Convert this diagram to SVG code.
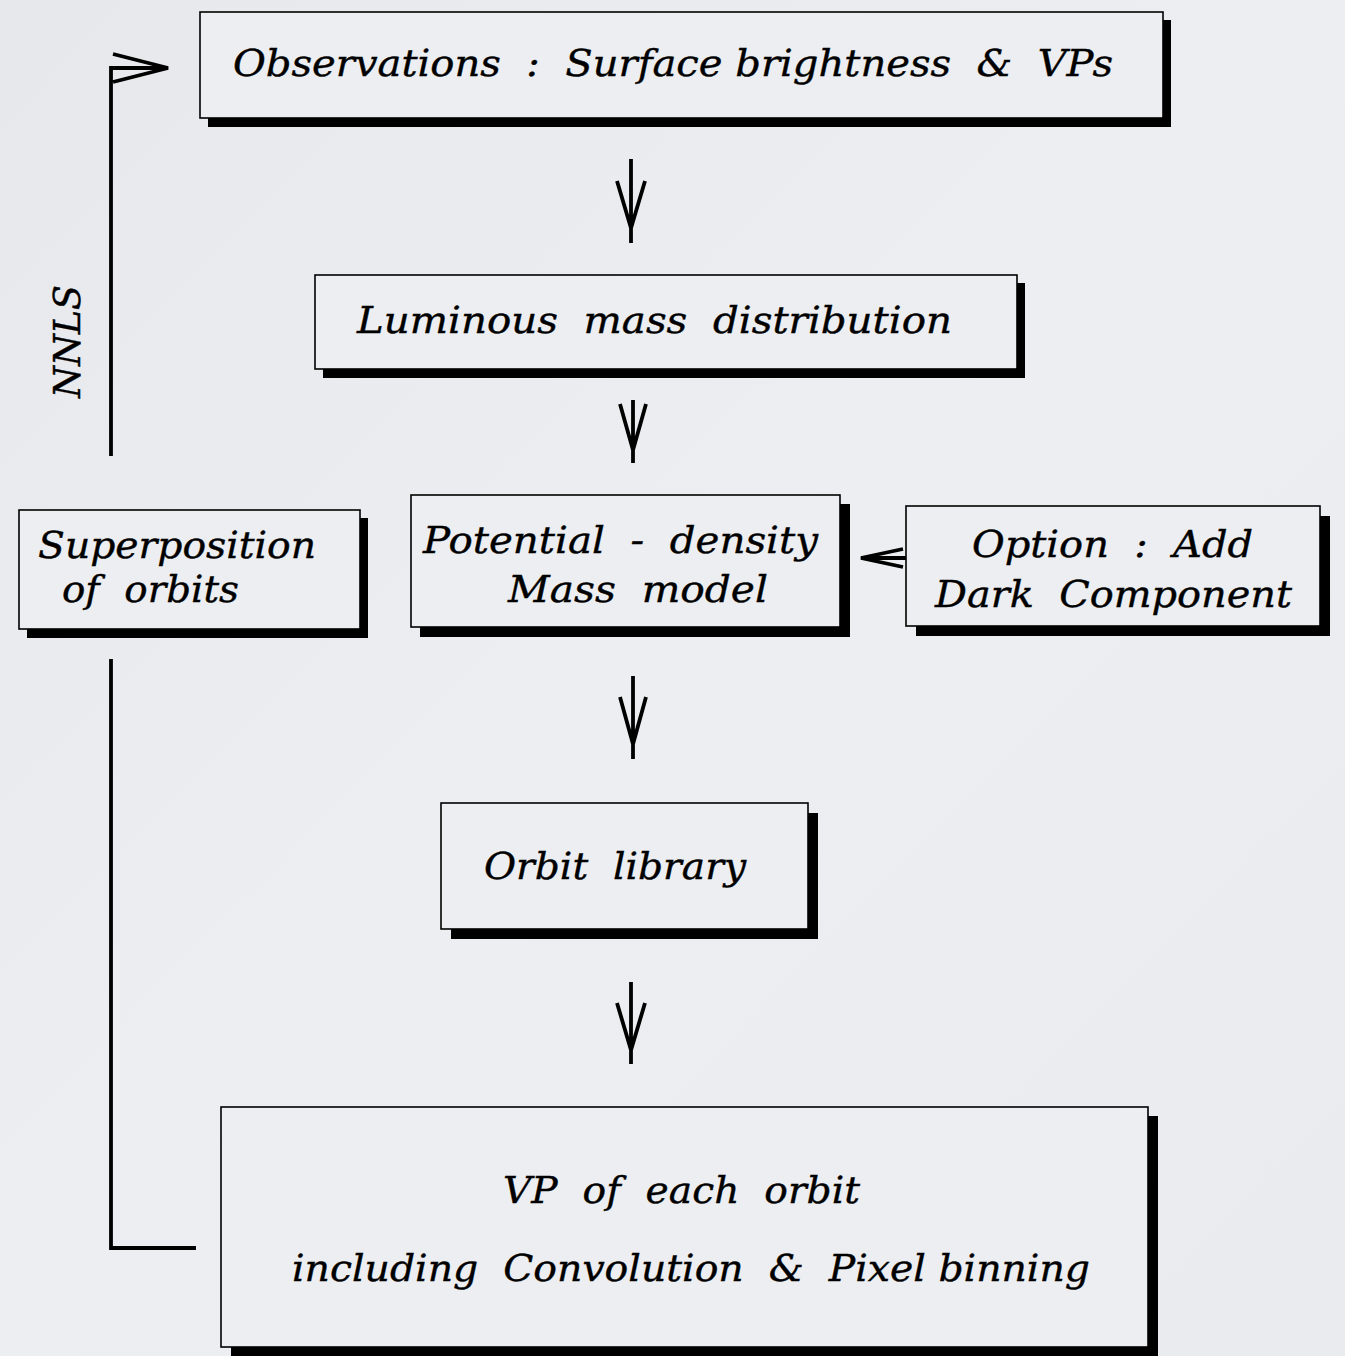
<svg xmlns="http://www.w3.org/2000/svg" width="1345" height="1356" viewBox="0 0 1345 1356">
<defs>
<linearGradient id="bg" x1="0" y1="0" x2="1" y2="1">
<stop offset="0" stop-color="#e6e8eb"/>
<stop offset="0.5" stop-color="#eceef1"/>
<stop offset="1" stop-color="#e9ebee"/>
</linearGradient>
<style>
.box{fill:#eceef1;stroke:#000;stroke-width:1.6}
.sh{fill:#000}
.t{font-family:"DejaVu Serif","Liberation Serif",serif;font-style:italic;font-size:38px;fill:#000;stroke:#000;stroke-width:0.4;white-space:pre}
.ln{fill:none;stroke:#000;stroke-width:3.8;stroke-linecap:butt;stroke-linejoin:miter}
</style>
</defs>
<rect width="1345" height="1356" fill="url(#bg)"/>
<g id="connectors">
<path class="ln" d="M631,159 V243 M617,181 L631,228 L645,181"/>
<path class="ln" d="M633,400 V463 M620,404 L633,450 L646,404"/>
<path class="ln" d="M633,676 V759 M620,697 L633,744 L646,697"/>
<path class="ln" d="M631,982 V1064 M617,1003 L631,1050 L645,1003"/>
<path class="ln" d="M910,558 H861 M903,549 L861,558 L903,567" stroke-width="3"/>
<path class="ln" d="M196,1248 H111 V659"/>
<path class="ln" d="M111,456 V68 H166 M113,54 L168,68 L113,82"/>
</g>
<g id="node-observations">
<rect class="sh" x="208" y="20" width="963" height="107"/>
<rect class="box" x="200" y="12" width="963" height="106"/>
<text class="t" x="233" y="76" textLength="880" lengthAdjust="spacingAndGlyphs">Observations  :  Surface brightness  &amp;  VPs</text>
</g>
<g id="node-luminous">
<rect class="sh" x="323" y="283" width="702" height="95"/>
<rect class="box" x="315" y="275" width="702" height="94"/>
<text class="t" x="357" y="333" textLength="595" lengthAdjust="spacingAndGlyphs">Luminous  mass  distribution</text>
</g>
<g id="node-superposition">
<rect class="sh" x="27" y="518" width="341" height="120"/>
<rect class="box" x="19" y="510" width="341" height="119"/>
<text class="t" x="38" y="558" textLength="278" lengthAdjust="spacingAndGlyphs">Superposition</text>
<text class="t" x="62" y="602" textLength="177" lengthAdjust="spacingAndGlyphs">of  orbits</text>
</g>
<g id="node-potential">
<rect class="sh" x="420" y="504" width="430" height="133"/>
<rect class="box" x="411" y="495" width="429" height="132"/>
<text class="t" x="423" y="553" textLength="395" lengthAdjust="spacingAndGlyphs">Potential  -  density</text>
<text class="t" x="508" y="602" textLength="260" lengthAdjust="spacingAndGlyphs">Mass  model</text>
</g>
<g id="node-option">
<rect class="sh" x="916" y="516" width="414" height="120"/>
<rect class="box" x="906" y="506" width="414" height="120"/>
<text class="t" x="972" y="557" textLength="281" lengthAdjust="spacingAndGlyphs">Option  :  Add</text>
<text class="t" x="935" y="607" textLength="357" lengthAdjust="spacingAndGlyphs">Dark  Component</text>
</g>
<g id="node-orbit-library">
<rect class="sh" x="451" y="813" width="367" height="126"/>
<rect class="box" x="441" y="803" width="367" height="126"/>
<text class="t" x="484" y="879" textLength="262" lengthAdjust="spacingAndGlyphs">Orbit  library</text>
</g>
<g id="node-vp">
<rect class="sh" x="231" y="1116" width="927" height="240"/>
<rect class="box" x="221" y="1107" width="927" height="240"/>
<text class="t" x="503" y="1203" textLength="357" lengthAdjust="spacingAndGlyphs">VP  of  each  orbit</text>
<text class="t" x="292" y="1281" textLength="798" lengthAdjust="spacingAndGlyphs">including  Convolution  &amp;  Pixel binning</text>
</g>
<g id="label-nnls">
<text class="t" transform="translate(80,398) rotate(-90)" textLength="113" lengthAdjust="spacingAndGlyphs">NNLS</text>
</g>
</svg>
